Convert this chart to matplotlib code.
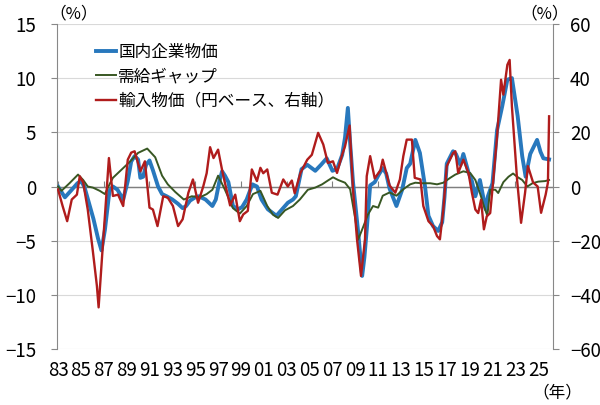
import matplotlib.pyplot as plt

plt.rcParams['font.family'] = ['Liberation Sans Narrow', 'Noto Sans CJK JP', 'DejaVu Sans']

# 国内企業物価 (前年比, 左軸)
cgpi_x = [1983.0, 1983.6, 1984.2, 1984.7, 1985.0, 1985.3, 1985.7, 1986.1, 1986.5, 1986.8,
          1987.1, 1987.5, 1987.8, 1988.2, 1988.7, 1989.1, 1989.4, 1989.7, 1990.0, 1990.2,
          1990.45, 1990.7, 1991.0, 1991.3, 1991.75, 1992.1, 1992.5, 1993.0, 1993.5, 1993.9,
          1994.2, 1994.55, 1995.0, 1995.3, 1995.9, 1996.5, 1996.8, 1997.1, 1997.35, 1997.6,
          1997.9, 1998.3, 1998.75, 1999.1, 1999.5, 2000.0, 2000.4, 2000.8, 2001.35, 2002.1,
          2002.6, 2003.1, 2003.55, 2003.8, 2004.3, 2004.8, 2005.5, 2006.0, 2006.5, 2007.0,
          2007.4, 2007.85, 2008.1, 2008.35, 2008.55, 2008.8, 2009.25, 2009.6, 2009.8, 2010.0,
          2010.3, 2010.7, 2011.0, 2011.4, 2011.7, 2012.0, 2012.6, 2013.1, 2013.5, 2013.8,
          2014.25, 2014.65, 2015.1, 2015.4, 2015.8, 2016.25, 2016.6, 2016.8, 2017.0, 2017.55,
          2017.8, 2018.0, 2018.2, 2018.45, 2018.9, 2019.2, 2019.5, 2019.9, 2020.4, 2020.6,
          2021.0, 2021.4, 2021.85, 2022.3, 2022.7, 2023.2, 2023.6, 2023.9, 2024.3, 2024.9,
          2025.2, 2025.45, 2025.95]
cgpi = [0.0, -1.0, -0.3, 0.3, 0.5, 0.0, -1.5, -3.0, -4.8, -5.9,
        -4.0, -0.4, 0.0, -0.3, -1.2, 0.5, 2.3, 2.8, 2.5, 0.8,
        0.9, 2.0, 2.4, 1.5, 0.0, -0.7, -0.9, -1.2, -1.6, -2.0,
        -1.8, -1.3, -1.0, -0.9, -1.2, -1.8, -1.2, 0.4, 1.4, 1.0,
        0.4, -1.8, -2.1, -1.9, -1.2, 0.2, 0.0, -1.2, -2.1, -2.7,
        -2.1, -1.5, -1.2, -0.9, 1.6, 2.0, 1.45, 2.0, 2.6, 1.45,
        1.6, 2.9, 4.5, 7.25, 4.0, 0.4, -4.2, -8.25, -6.5, -4.0,
        0.1, 0.4, 1.0, 1.7, 1.2, -0.2, -1.8, -0.3, 1.7, 2.1,
        4.3, 3.1, 0.0, -2.7, -3.65, -4.1, -3.3, -1.0, 2.1, 3.25,
        3.0, 2.5, 2.0, 3.0, 1.3, 0.5, -0.9, 0.6, -2.1, -0.9,
        0.3, 5.2, 7.4, 9.85, 10.0, 6.5, 2.8, 0.9, 3.0, 4.3,
        3.2, 2.6, 2.5]

# 需給ギャップ (左軸)
gap_x = [1983.0, 1983.3, 1984.0, 1984.75, 1985.2, 1985.6, 1986.05, 1986.65, 1987.1, 1987.55,
         1987.8, 1988.6, 1989.3, 1990.0, 1990.8, 1991.5, 1992.1, 1992.6, 1993.25, 1994.0,
         1994.7, 1995.4, 1996.0, 1996.5, 1997.0, 1997.6, 1998.3, 1998.9, 1999.5, 2000.05,
         2000.7, 2001.3, 2001.8, 2002.25, 2002.85, 2003.55, 2004.15, 2004.85, 2005.5, 2006.1,
         2006.6, 2007.05, 2007.5, 2008.1, 2008.55, 2009.0, 2009.25, 2009.7, 2010.1, 2010.55,
         2011.0, 2011.4, 2012.0, 2012.6, 2013.2, 2013.8, 2014.25, 2014.85, 2015.55, 2016.15,
         2016.7, 2017.3, 2017.75, 2018.45, 2019.05, 2019.5, 2019.9, 2020.25, 2020.55, 2020.8,
         2021.25, 2021.5, 2021.95, 2022.4, 2022.8, 2023.15, 2023.6, 2024.05, 2024.5, 2025.0,
         2025.6, 2025.95]
gap = [0.0, -0.4, 0.3, 1.1, 0.6, 0.0, -0.1, -0.4, -0.7, 0.3,
       0.8, 1.6, 2.3, 3.1, 3.5, 2.7, 1.0, 0.2, -0.5, -1.2,
       -0.9, -1.0, -0.7, -0.3, 1.0, -0.3, -2.0, -2.5, -1.8, -0.7,
       -0.4, -1.8, -2.6, -2.9, -2.2, -1.8, -1.2, -0.3, -0.1, 0.2,
       0.55, 0.85, 0.6, 0.35, -0.25, -3.0, -4.9, -3.7, -2.6, -1.8,
       -1.95, -0.85, -0.55, -0.85, -0.25, 0.2, 0.35, 0.3, 0.3, 0.2,
       0.35, 0.8, 1.1, 1.4, 1.25, 0.6, -0.6, -1.8, -2.7, -0.3,
       -0.3, -0.6, 0.4, 0.9, 1.2, 0.9, 0.6, 0.0, 0.3, 0.45,
       0.5, 0.6]

# 輸入物価 円ベース (前年比, 右軸)
imp_x = [1983.0, 1983.4, 1983.8, 1984.2, 1984.65, 1984.9, 1985.2, 1985.6, 1986.05, 1986.4,
         1986.55, 1986.85, 1987.1, 1987.45, 1987.8, 1988.25, 1988.7, 1989.1, 1989.4, 1989.7,
         1990.2, 1990.6, 1991.0, 1991.3, 1991.7, 1992.2, 1992.6, 1993.05, 1993.5, 1993.9,
         1994.4, 1994.8, 1995.25, 1995.7, 1996.0, 1996.3, 1996.6, 1997.0, 1997.4, 1998.05,
         1998.5, 1998.9, 1999.2, 1999.6, 1999.95, 2000.4, 2000.7, 2000.95, 2001.3, 2001.7,
         2002.2, 2002.7, 2003.1, 2003.45, 2003.7, 2004.2, 2004.8, 2005.2, 2005.75, 2006.2,
         2006.6, 2007.05, 2007.4, 2007.85, 2008.1, 2008.5, 2008.8, 2009.15, 2009.5, 2009.85,
         2010.0, 2010.3, 2010.7, 2011.2, 2011.4, 2012.0, 2012.5, 2012.9, 2013.2, 2013.5,
         2013.95, 2014.2, 2014.7, 2014.95, 2015.4, 2015.8, 2016.15, 2016.4, 2016.7, 2017.0,
         2017.55, 2017.75, 2018.0, 2018.45, 2018.9, 2019.2, 2019.5, 2019.75, 2020.0, 2020.25,
         2020.5, 2020.8, 2021.05, 2021.4, 2021.75, 2021.95, 2022.3, 2022.5, 2022.7, 2023.15,
         2023.5, 2023.85, 2024.1, 2024.55, 2024.95, 2025.25, 2025.65, 2025.85, 2025.95]
imp = [-1.1, -7.2, -12.8, -4.8, -3.0, 3.8, 1.5, -8.5, -24.0, -36.7,
       -44.6, -26.0, -10.9, 10.5, -3.5, -3.0, -7.2, 9.9, 12.5, 13.0,
       5.6, 9.3, -7.8, -8.5, -14.6, -3.6, -4.1, -7.2, -14.6, -12.1,
       -2.3, 2.6, -6.0, 0.0, 4.9, 14.5, 10.5, 13.6, 5.0, -7.0,
       -3.0, -12.8, -10.3, -9.0, 6.3, 2.0, 6.9, 4.9, 6.3, -2.3,
       -3.0, 2.6, 0.0, 2.2, -2.5, 5.0, 9.9, 11.7, 19.8, 15.5,
       8.7, 9.3, 5.0, 11.7, 14.8, 22.5, -1.1, -19.5, -33.0, -19.5,
       3.8, 11.2, 3.0, 6.0, 9.9, 0.4, -2.3, 2.6, 11.2, 17.3,
       17.3, 3.2, 2.6, -7.2, -12.8, -14.6, -18.3, -19.5, -8.5, 7.5,
       12.3, 13.0, 5.0, 9.9, 5.0, -2.3, -8.5, -9.8, -4.9, -15.8,
       -11.0, -9.8, 1.5, 18.5, 39.4, 33.9, 44.9, 46.7, 29.5, 2.6,
       -13.4, -2.3, 7.5, 1.5, 0.0, -9.7, -3.0, 1.5, 25.9]

label_years = list(range(1983, 2026, 2))
zero_tick_years = list(range(1983, 2026, 4))

fig = plt.figure(figsize=(6, 4.05), dpi=100)
ax = fig.add_axes([0.095, 0.138, 0.827, 0.803])
ax2 = ax.twinx()

l1, = ax.plot(cgpi_x, cgpi, color='#2878bd', lw=2.8, label='国内企業物価', zorder=2)
l2, = ax.plot(gap_x, gap, color='#385723', lw=1.4, label='需給ギャップ', zorder=3)
l3, = ax2.plot(imp_x, imp, color='#b01c1c', lw=1.7, label='輸入物価（円ベース、右軸）')

ax.set_xlim(1982.91, 2026.31)
ax.set_ylim(-15, 15)
ax2.set_ylim(-60, 60)
ax.set_yticks(range(-15, 16, 5))
ax2.set_yticks(range(-60, 61, 20))

ax.yaxis.grid(True, color='#d9d9d9', lw=0.8)
ax.set_axisbelow(True)
ax.axhline(0, color='#7f7f7f', lw=0.9, zorder=1)

for a in (ax, ax2):
    a.spines['top'].set_visible(False)
    a.spines['bottom'].set_visible(False)
    a.spines['left'].set_color('#888888')
    a.spines['right'].set_color('#888888')
ax.spines['right'].set_visible(False)
ax2.spines['left'].set_visible(False)

ax.tick_params(axis='y', length=4, color='#888888', labelsize=13.5, pad=11)
ax2.tick_params(axis='y', length=4, color='#888888', labelsize=13.5, pad=8)
ax.set_xticks(label_years)
ax.set_xticklabels([f'{y % 100:02d}' for y in label_years])
ax.tick_params(axis='x', length=0, labelsize=13.5, pad=8)

# small ticks on the zero line
sec = ax.secondary_xaxis(0.5)
sec.set_xticks(zero_tick_years)
sec.set_xticklabels([])
sec.spines['bottom'].set_visible(False)
sec.tick_params(axis='x', length=4, color='#7f7f7f', width=0.8)

leg = ax.legend(handles=[l1, l2, l3], loc='upper left', bbox_to_anchor=(0.065, 0.96),
                frameon=False, fontsize=12, handlelength=1.2, handletextpad=0.15,
                labelspacing=0.45, borderaxespad=0)
for t in leg.get_texts():
    t.set_family('Noto Sans CJK JP')

fig.text(0.083, 0.965, '（%）', fontsize=12, family='Noto Sans CJK JP', va='center')
fig.text(0.868, 0.965, '（%）', fontsize=12, family='Noto Sans CJK JP', va='center')
fig.text(0.888, 0.03, '（年）', fontsize=12, family='Noto Sans CJK JP', va='center')

fig.savefig('out.png', dpi=100)
